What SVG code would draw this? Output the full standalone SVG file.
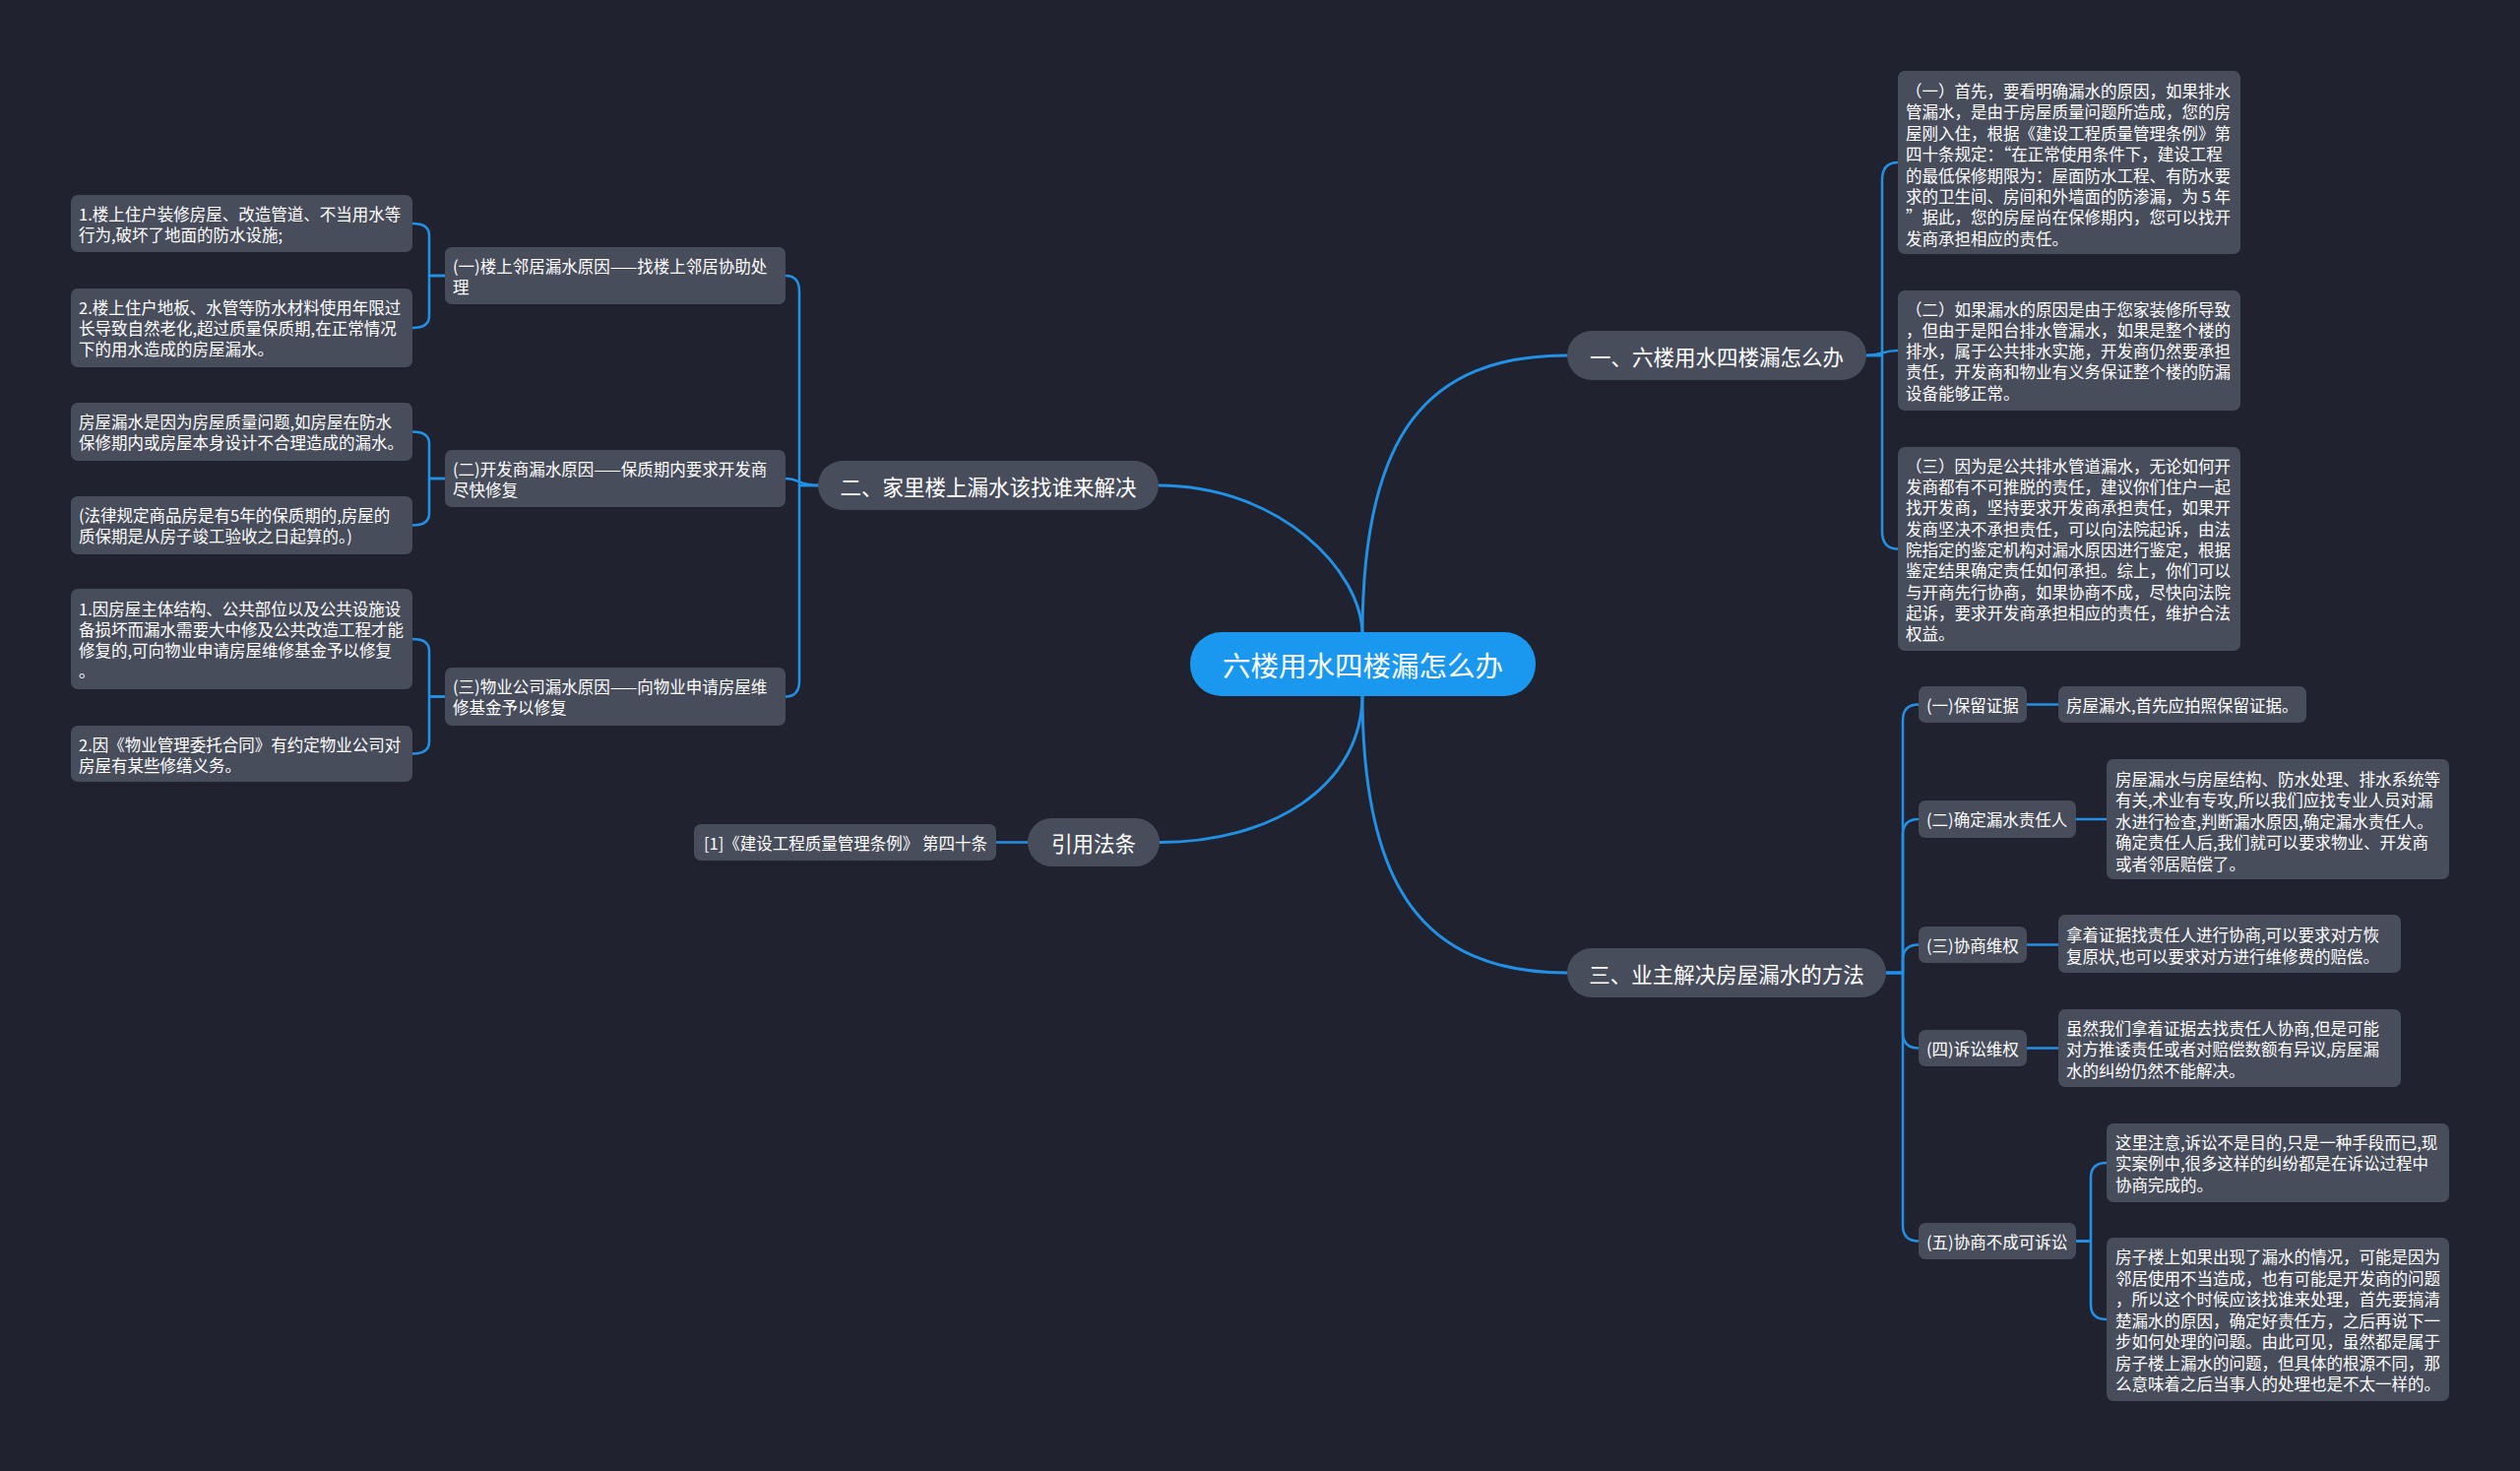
<svg xmlns="http://www.w3.org/2000/svg" width="2560" height="1494" viewBox="0 0 2560 1494">
<style>
.bg{fill:#20232f}
.n{fill:#484d5c}
.c{fill:#1a98ef}
text{fill:#ffffff;font-family:"Noto Sans CJK SC","Noto Sans",sans-serif;dominant-baseline:central}
.s{font-size:16.5px}
.m{font-size:21.5px;text-anchor:middle}
.l{font-size:28.5px;text-anchor:middle}
.k{fill:none;stroke:#2290e4;stroke-linecap:round;stroke-linejoin:round}
.k1{stroke-width:3}
.k2{stroke-width:2.5}
</style>
<rect class="bg" x="0" y="0" width="2560" height="1494"/>
<g id="connectors">
<path class="k k1" d="M1384 645 C1384 440,1450 361,1592 361"/>
<path class="k k1" d="M1384 645 C1384 580,1300 493,1177 493"/>
<path class="k k1" d="M1384 705 C1384 800,1290 855.5,1178 855.5"/>
<path class="k k1" d="M1384 705 C1384 900,1445 988,1592 988"/>
<path class="k k2" d="M1896 361 H1912 V183 Q1912 165 1928 165"/>
<path class="k k2" d="M1896 361 C1912 361,1912 356,1928 356"/>
<path class="k k2" d="M1896 361 H1912 V539.5 Q1912 557.5 1928 557.5"/>
<path class="k k2" d="M1916 988 H1933 V731.5 Q1933 715.5 1949 715.5"/>
<path class="k k2" d="M1916 988 H1933 V848 Q1933 832 1949 832"/>
<path class="k k2" d="M1916 988 H1933 V975.5 Q1933 959.5 1949 959.5"/>
<path class="k k2" d="M1916 988 H1933 V1048.5 Q1933 1064.5 1949 1064.5"/>
<path class="k k2" d="M1916 988 H1933 V1244.5 Q1933 1260.5 1949 1260.5"/>
<path class="k k2" d="M2059 715.5 L2091 715.5"/>
<path class="k k2" d="M2109 832 L2140 832"/>
<path class="k k2" d="M2059 959.5 L2091 959.5"/>
<path class="k k2" d="M2059 1064.5 L2091 1064.5"/>
<path class="k k2" d="M2109 1260.5 H2124 V1196 Q2124 1181 2140 1181"/>
<path class="k k2" d="M2109 1260.5 H2124 V1325 Q2124 1340 2140 1340"/>
<path class="k k2" d="M831 493 H812 V296 Q812 280 798 280"/>
<path class="k k2" d="M831 493 C812 493,812 486,798 486"/>
<path class="k k2" d="M831 493 H812 V691.5 Q812 707.5 798 707.5"/>
<path class="k k2" d="M452 280 H436 V239 Q436 227 419 227"/>
<path class="k k2" d="M452 280 H436 V321 Q436 333 419 333"/>
<path class="k k2" d="M452 486 H436 V450.5 Q436 438.5 419 438.5"/>
<path class="k k2" d="M452 486 H436 V521.5 Q436 533.5 419 533.5"/>
<path class="k k2" d="M452 707.5 H436 V661 Q436 649 419 649"/>
<path class="k k2" d="M452 707.5 H436 V753.5 Q436 765.5 419 765.5"/>
<path class="k k2" d="M1044 855.5 L1012 855.5"/>
</g>
<g id="root">
<rect class="c" x="1209" y="642" width="351" height="65" rx="32"/>
<text class="l" x="1384.5" y="674.5">六楼用水四楼漏怎么办</text>
</g>
<g id="b1">
<rect class="n" x="1592" y="336" width="304" height="50" rx="25"/>
<text class="m" x="1744" y="361">一、六楼用水四楼漏怎么办</text>
</g>
<g id="b1c1">
<rect class="n" x="1928" y="72" width="348" height="186" rx="7"/>
<text class="s" x="1936" y="92">（一）首先，要看明确漏水的原因，如果排水</text>
<text class="s" x="1936" y="113.4">管漏水，是由于房屋质量问题所造成，您的房</text>
<text class="s" x="1936" y="134.8">屋刚入住，根据《建设工程质量管理条例》第</text>
<text class="s" x="1936" y="156.2">四十条规定：“在正常使用条件下，建设工程</text>
<text class="s" x="1936" y="177.6">的最低保修期限为：屋面防水工程、有防水要</text>
<text class="s" x="1936" y="199">求的卫生间、房间和外墙面的防渗漏，为 5 年</text>
<text class="s" x="1936" y="220.4">”据此，您的房屋尚在保修期内，您可以找开</text>
<text class="s" x="1936" y="241.8">发商承担相应的责任。</text>
</g>
<g id="b1c2">
<rect class="n" x="1928" y="295" width="348" height="122" rx="7"/>
<text class="s" x="1936" y="313.5">（二）如果漏水的原因是由于您家装修所导致</text>
<text class="s" x="1936" y="334.8">，但由于是阳台排水管漏水，如果是整个楼的</text>
<text class="s" x="1936" y="356.1">排水，属于公共排水实施，开发商仍然要承担</text>
<text class="s" x="1936" y="377.4">责任，开发商和物业有义务保证整个楼的防漏</text>
<text class="s" x="1936" y="398.7">设备能够正常。</text>
</g>
<g id="b1c3">
<rect class="n" x="1928" y="454" width="348" height="207" rx="7"/>
<text class="s" x="1936" y="472.7">（三）因为是公共排水管道漏水，无论如何开</text>
<text class="s" x="1936" y="494">发商都有不可推脱的责任，建议你们住户一起</text>
<text class="s" x="1936" y="515.3">找开发商，坚持要求开发商承担责任，如果开</text>
<text class="s" x="1936" y="536.6">发商坚决不承担责任，可以向法院起诉，由法</text>
<text class="s" x="1936" y="557.9">院指定的鉴定机构对漏水原因进行鉴定，根据</text>
<text class="s" x="1936" y="579.2">鉴定结果确定责任如何承担。综上，你们可以</text>
<text class="s" x="1936" y="600.5">与开商先行协商，如果协商不成，尽快向法院</text>
<text class="s" x="1936" y="621.8">起诉，要求开发商承担相应的责任，维护合法</text>
<text class="s" x="1936" y="643.1">权益。</text>
</g>
<g id="b4">
<rect class="n" x="1592" y="963" width="324" height="50" rx="25"/>
<text class="m" x="1754" y="988">三、业主解决房屋漏水的方法</text>
</g>
<g id="b4c1">
<rect class="n" x="1949" y="697" width="110" height="37" rx="7"/>
<text class="s" x="1957" y="715.5">(一)保留证据</text>
</g>
<g id="b4c1l">
<rect class="n" x="2091" y="697" width="252" height="37" rx="7"/>
<text class="s" x="2099" y="715.5">房屋漏水,首先应拍照保留证据。</text>
</g>
<g id="b4c2">
<rect class="n" x="1949" y="813" width="160" height="38" rx="7"/>
<text class="s" x="1957" y="832">(二)确定漏水责任人</text>
</g>
<g id="b4c2l">
<rect class="n" x="2140" y="771" width="348" height="122" rx="7"/>
<text class="s" x="2149" y="790.5">房屋漏水与房屋结构、防水处理、排水系统等</text>
<text class="s" x="2149" y="812">有关,术业有专攻,所以我们应找专业人员对漏</text>
<text class="s" x="2149" y="833.5">水进行检查,判断漏水原因,确定漏水责任人。</text>
<text class="s" x="2149" y="855">确定责任人后,我们就可以要求物业、开发商</text>
<text class="s" x="2149" y="876.5">或者邻居赔偿了。</text>
</g>
<g id="b4c3">
<rect class="n" x="1949" y="941" width="110" height="37" rx="7"/>
<text class="s" x="1957" y="959.5">(三)协商维权</text>
</g>
<g id="b4c3l">
<rect class="n" x="2091" y="929" width="348" height="59" rx="7"/>
<text class="s" x="2099" y="949.3">拿着证据找责任人进行协商,可以要求对方恢</text>
<text class="s" x="2099" y="970.7">复原状,也可以要求对方进行维修费的赔偿。</text>
</g>
<g id="b4c4">
<rect class="n" x="1949" y="1046" width="110" height="37" rx="7"/>
<text class="s" x="1957" y="1064.5">(四)诉讼维权</text>
</g>
<g id="b4c4l">
<rect class="n" x="2091" y="1025" width="348" height="79" rx="7"/>
<text class="s" x="2099" y="1044">虽然我们拿着证据去找责任人协商,但是可能</text>
<text class="s" x="2099" y="1065.3">对方推诿责任或者对赔偿数额有异议,房屋漏</text>
<text class="s" x="2099" y="1086.6">水的纠纷仍然不能解决。</text>
</g>
<g id="b4c5">
<rect class="n" x="1949" y="1242" width="160" height="37" rx="7"/>
<text class="s" x="1957" y="1260.5">(五)协商不成可诉讼</text>
</g>
<g id="b4c5l1">
<rect class="n" x="2140" y="1141" width="348" height="80" rx="7"/>
<text class="s" x="2149" y="1160">这里注意,诉讼不是目的,只是一种手段而已,现</text>
<text class="s" x="2149" y="1181.3">实案例中,很多这样的纠纷都是在诉讼过程中</text>
<text class="s" x="2149" y="1202.6">协商完成的。</text>
</g>
<g id="b4c5l2">
<rect class="n" x="2140" y="1257" width="348" height="166" rx="7"/>
<text class="s" x="2149" y="1276">房子楼上如果出现了漏水的情况，可能是因为</text>
<text class="s" x="2149" y="1297.5">邻居使用不当造成，也有可能是开发商的问题</text>
<text class="s" x="2149" y="1319">，所以这个时候应该找谁来处理，首先要搞清</text>
<text class="s" x="2149" y="1340.5">楚漏水的原因，确定好责任方，之后再说下一</text>
<text class="s" x="2149" y="1362">步如何处理的问题。由此可见，虽然都是属于</text>
<text class="s" x="2149" y="1383.5">房子楼上漏水的问题，但具体的根源不同，那</text>
<text class="s" x="2149" y="1405">么意味着之后当事人的处理也是不太一样的。</text>
</g>
<g id="b2">
<rect class="n" x="831" y="468" width="346" height="50" rx="25"/>
<text class="m" x="1004" y="493">二、家里楼上漏水该找谁来解决</text>
</g>
<g id="b2c1">
<rect class="n" x="452" y="251" width="346" height="58" rx="7"/>
<text class="s" x="460" y="270">(一)楼上邻居漏水原因——找楼上邻居协助处</text>
<text class="s" x="460" y="291">理</text>
</g>
<g id="b2c1l1">
<rect class="n" x="72" y="198" width="347" height="58" rx="7"/>
<text class="s" x="80" y="217">1.楼上住户装修房屋、改造管道、不当用水等</text>
<text class="s" x="80" y="238">行为,破坏了地面的防水设施;</text>
</g>
<g id="b2c1l2">
<rect class="n" x="72" y="293" width="347" height="80" rx="7"/>
<text class="s" x="80" y="312">2.楼上住户地板、水管等防水材料使用年限过</text>
<text class="s" x="80" y="333">长导致自然老化,超过质量保质期,在正常情况</text>
<text class="s" x="80" y="354">下的用水造成的房屋漏水。</text>
</g>
<g id="b2c2">
<rect class="n" x="452" y="457" width="346" height="58" rx="7"/>
<text class="s" x="460" y="476">(二)开发商漏水原因——保质期内要求开发商</text>
<text class="s" x="460" y="497">尽快修复</text>
</g>
<g id="b2c2l1">
<rect class="n" x="72" y="409" width="347" height="59" rx="7"/>
<text class="s" x="80" y="428">房屋漏水是因为房屋质量问题,如房屋在防水</text>
<text class="s" x="80" y="449">保修期内或房屋本身设计不合理造成的漏水。</text>
</g>
<g id="b2c2l2">
<rect class="n" x="72" y="504" width="347" height="59" rx="7"/>
<text class="s" x="80" y="523">(法律规定商品房是有5年的保质期的,房屋的</text>
<text class="s" x="80" y="544">质保期是从房子竣工验收之日起算的。)</text>
</g>
<g id="b2c3">
<rect class="n" x="452" y="678" width="346" height="59" rx="7"/>
<text class="s" x="460" y="697">(三)物业公司漏水原因——向物业申请房屋维</text>
<text class="s" x="460" y="718">修基金予以修复</text>
</g>
<g id="b2c3l1">
<rect class="n" x="72" y="598" width="347" height="102" rx="7"/>
<text class="s" x="80" y="618">1.因房屋主体结构、公共部位以及公共设施设</text>
<text class="s" x="80" y="639">备损坏而漏水需要大中修及公共改造工程才能</text>
<text class="s" x="80" y="660">修复的,可向物业申请房屋维修基金予以修复</text>
<text class="s" x="80" y="681">。</text>
</g>
<g id="b2c3l2">
<rect class="n" x="72" y="737" width="347" height="57" rx="7"/>
<text class="s" x="80" y="756">2.因《物业管理委托合同》有约定物业公司对</text>
<text class="s" x="80" y="777">房屋有某些修缮义务。</text>
</g>
<g id="b3">
<rect class="n" x="1044" y="831" width="134" height="49" rx="24.5"/>
<text class="m" x="1111" y="855.5">引用法条</text>
</g>
<g id="b3c1">
<rect class="n" x="705" y="837" width="307" height="37" rx="7"/>
<text class="s" x="715" y="855.5">[1]《建设工程质量管理条例》 第四十条</text>
</g>
</svg>
